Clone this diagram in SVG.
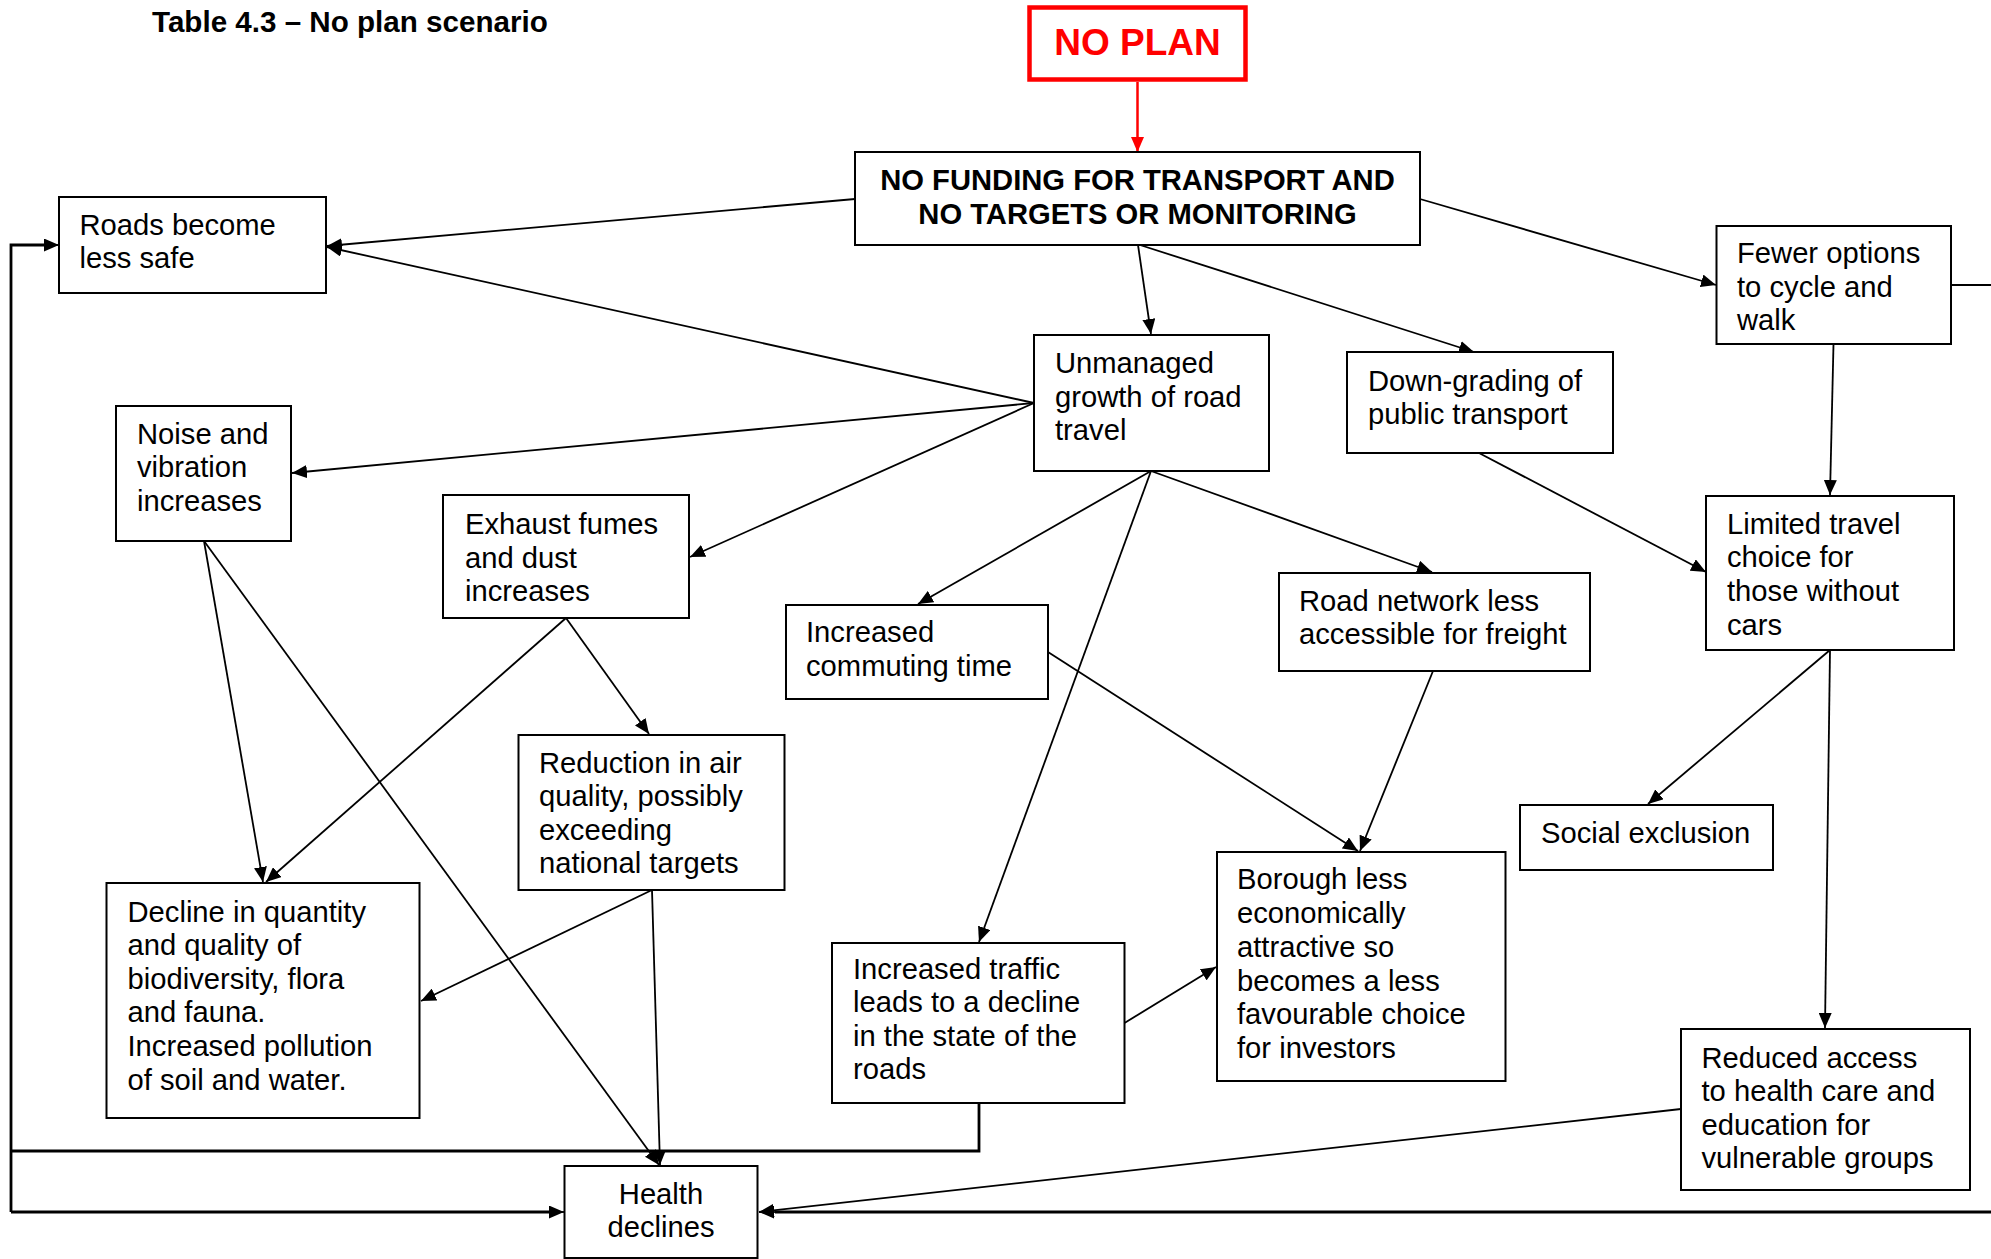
<svg xmlns="http://www.w3.org/2000/svg" width="1991" height="1259" viewBox="0 0 1991 1259">
<defs>
<marker id="ah" markerUnits="userSpaceOnUse" markerWidth="16" markerHeight="13" refX="15" refY="6.5" orient="auto">
<path d="M0,0 L15,6.5 L0,13 z" fill="#000"/>
</marker>
<marker id="ahr" markerUnits="userSpaceOnUse" markerWidth="16" markerHeight="13" refX="15" refY="6.5" orient="auto">
<path d="M0,0 L15,6.5 L0,13 z" fill="#FF0000"/>
</marker>
<style>
.box{fill:#fff;stroke:#000;stroke-width:2}
.t{font-family:"Liberation Sans",Arial,sans-serif;font-size:29.2px;fill:#000}
.b{font-weight:bold}
.c{text-anchor:middle}
.ln{fill:none;stroke:#000;stroke-width:1.8}
.arr{marker-end:url(#ah)}
.thick{fill:none;stroke:#000;stroke-width:2.8}
</style>
</defs>
<rect width="1991" height="1259" fill="#fff"/>
<text class="t b" x="152" y="32" style="font-size:29.6px">Table 4.3 – No plan scenario</text>

<g id="connectors">
<line x1="1137.5" y1="82" x2="1137.5" y2="152" stroke="#FF0000" stroke-width="2.5" marker-end="url(#ahr)"/>
<line class="ln arr" x1="855" y1="199" x2="327" y2="246"/>
<line class="ln arr" x1="1034" y1="403" x2="327" y2="247"/>
<line class="ln arr" x1="1420" y1="199" x2="1716" y2="285"/>
<line class="ln arr" x1="1138" y1="245" x2="1151" y2="334"/>
<line class="ln arr" x1="1140" y1="245" x2="1474" y2="352"/>
<line class="ln arr" x1="1034" y1="403" x2="292" y2="473"/>
<line class="ln arr" x1="1034" y1="403" x2="690" y2="557"/>
<line class="ln arr" x1="1151" y1="471" x2="918" y2="604"/>
<line class="ln arr" x1="1151" y1="471" x2="979" y2="942"/>
<line class="ln arr" x1="1151" y1="471" x2="1432" y2="572"/>
<line class="ln arr" x1="1479" y1="453" x2="1706" y2="572"/>
<line class="ln arr" x1="1833.5" y1="344" x2="1830" y2="495"/>
<line class="ln arr" x1="1830" y1="650" x2="1648" y2="804"/>
<line class="ln arr" x1="1830" y1="650" x2="1825" y2="1028"/>
<line class="ln arr" x1="1048" y1="652" x2="1358" y2="851"/>
<line class="ln arr" x1="1433" y1="671" x2="1360" y2="851"/>
<line class="ln arr" x1="1124.5" y1="1023" x2="1216" y2="967"/>
<line class="ln arr" x1="204" y1="541" x2="263" y2="882"/>
<line class="ln arr" x1="204" y1="541" x2="659" y2="1165"/>
<line class="ln arr" x1="566" y1="618" x2="266" y2="882"/>
<line class="ln arr" x1="566" y1="618" x2="649" y2="734"/>
<line class="ln arr" x1="652" y1="890" x2="421" y2="1001"/>
<line class="ln arr" x1="652" y1="890" x2="660" y2="1165"/>
<line class="ln arr" x1="1681" y1="1109" x2="759" y2="1212"/>
<polyline class="thick" points="979,1103 979,1151 11,1151"/>
<polyline class="thick" points="11,1212 11,245 44,245"/>
<line class="ln arr" x1="40" y1="245" x2="59" y2="245"/>
<line class="thick" x1="11" y1="1212" x2="550" y2="1212"/>
<line class="ln arr" x1="540" y1="1212" x2="564" y2="1212"/>
<line class="thick" x1="1991" y1="1212" x2="775" y2="1212"/>
<line class="ln arr" x1="780" y1="1212" x2="759" y2="1212"/>
<line class="ln" x1="1951" y1="285" x2="1991" y2="285"/>
</g>

<g id="no-plan">
<rect x="1029.5" y="7.5" width="216" height="72" fill="#fff" stroke="#FF0000" stroke-width="4.5"/>
<text class="t b c" x="1137.5" y="55" style="font-size:37px;fill:#FF0000">NO PLAN</text>
</g>
<g id="no-funding">
<rect class="box" x="855" y="152" width="565" height="93"/>
<text class="t b c" x="1137.5" y="190">NO FUNDING FOR TRANSPORT AND</text>
<text class="t b c" x="1137.5" y="224">NO TARGETS OR MONITORING</text>
</g>
<g id="roads-less-safe">
<rect class="box" x="59" y="197" width="267" height="96"/>
<text class="t" x="79.5" y="235">Roads become</text>
<text class="t" x="79.5" y="268">less safe</text>
</g>
<g id="fewer-options">
<rect class="box" x="1716.5" y="226" width="234.5" height="118"/>
<text class="t" x="1737" y="263">Fewer options</text>
<text class="t" x="1737" y="297">to cycle and</text>
<text class="t" x="1737" y="330">walk</text>
</g>
<g id="unmanaged-growth">
<rect class="box" x="1034" y="335" width="235" height="136"/>
<text class="t" x="1055" y="373">Unmanaged</text>
<text class="t" x="1055" y="406.5">growth of road</text>
<text class="t" x="1055" y="439.5">travel</text>
</g>
<g id="down-grading">
<rect class="box" x="1347" y="352" width="266" height="101"/>
<text class="t" x="1368" y="390.5">Down-grading of</text>
<text class="t" x="1368" y="424">public transport</text>
</g>
<g id="noise">
<rect class="box" x="116" y="406" width="175" height="135"/>
<text class="t" x="137" y="443.5">Noise and</text>
<text class="t" x="137" y="477">vibration</text>
<text class="t" x="137" y="510.5">increases</text>
</g>
<g id="exhaust">
<rect class="box" x="443" y="495" width="246" height="123"/>
<text class="t" x="465" y="534">Exhaust fumes</text>
<text class="t" x="465" y="567.5">and dust</text>
<text class="t" x="465" y="601">increases</text>
</g>
<g id="commuting">
<rect class="box" x="786" y="605" width="262" height="94"/>
<text class="t" x="806" y="642">Increased</text>
<text class="t" x="806" y="675.5">commuting time</text>
</g>
<g id="road-network">
<rect class="box" x="1279" y="573" width="311" height="98"/>
<text class="t" x="1299" y="610.5">Road network less</text>
<text class="t" x="1299" y="643.5">accessible for freight</text>
</g>
<g id="limited-travel">
<rect class="box" x="1706" y="496" width="248" height="154"/>
<text class="t" x="1727" y="533.5">Limited travel</text>
<text class="t" x="1727" y="567">choice for</text>
<text class="t" x="1727" y="601">those without</text>
<text class="t" x="1727" y="635">cars</text>
</g>
<g id="social-exclusion">
<rect class="box" x="1520" y="805" width="253" height="65"/>
<text class="t" x="1541" y="843">Social exclusion</text>
</g>
<g id="reduction-air">
<rect class="box" x="518.5" y="735" width="266" height="155"/>
<text class="t" x="539" y="772.5">Reduction in air</text>
<text class="t" x="539" y="806">quality, possibly</text>
<text class="t" x="539" y="839.5">exceeding</text>
<text class="t" x="539" y="872.5">national targets</text>
</g>
<g id="decline-biodiversity">
<rect class="box" x="106.5" y="883" width="313" height="235"/>
<text class="t" x="127.5" y="921.5">Decline in quantity</text>
<text class="t" x="127.5" y="955">and quality of</text>
<text class="t" x="127.5" y="988.5">biodiversity, flora</text>
<text class="t" x="127.5" y="1022">and fauna.</text>
<text class="t" x="127.5" y="1056">Increased pollution</text>
<text class="t" x="127.5" y="1089.5">of soil and water.</text>
</g>
<g id="increased-traffic">
<rect class="box" x="832" y="943" width="292.5" height="160"/>
<text class="t" x="853" y="978.5">Increased traffic</text>
<text class="t" x="853" y="1012">leads to a decline</text>
<text class="t" x="853" y="1045.5">in the state of the</text>
<text class="t" x="853" y="1078.5">roads</text>
</g>
<g id="borough">
<rect class="box" x="1217" y="852" width="288.5" height="229"/>
<text class="t" x="1237" y="888.5">Borough less</text>
<text class="t" x="1237" y="923">economically</text>
<text class="t" x="1237" y="957">attractive so</text>
<text class="t" x="1237" y="990.5">becomes a less</text>
<text class="t" x="1237" y="1024">favourable choice</text>
<text class="t" x="1237" y="1057.5">for investors</text>
</g>
<g id="reduced-access">
<rect class="box" x="1681" y="1029" width="289" height="161"/>
<text class="t" x="1701.5" y="1067.5">Reduced access</text>
<text class="t" x="1701.5" y="1100.5">to health care and</text>
<text class="t" x="1701.5" y="1134.5">education for</text>
<text class="t" x="1701.5" y="1167.5">vulnerable groups</text>
</g>
<g id="health-declines">
<rect class="box" x="564.5" y="1166" width="193" height="92"/>
<text class="t c" x="661" y="1203.5">Health</text>
<text class="t c" x="661" y="1236.5">declines</text>
</g>
</svg>
